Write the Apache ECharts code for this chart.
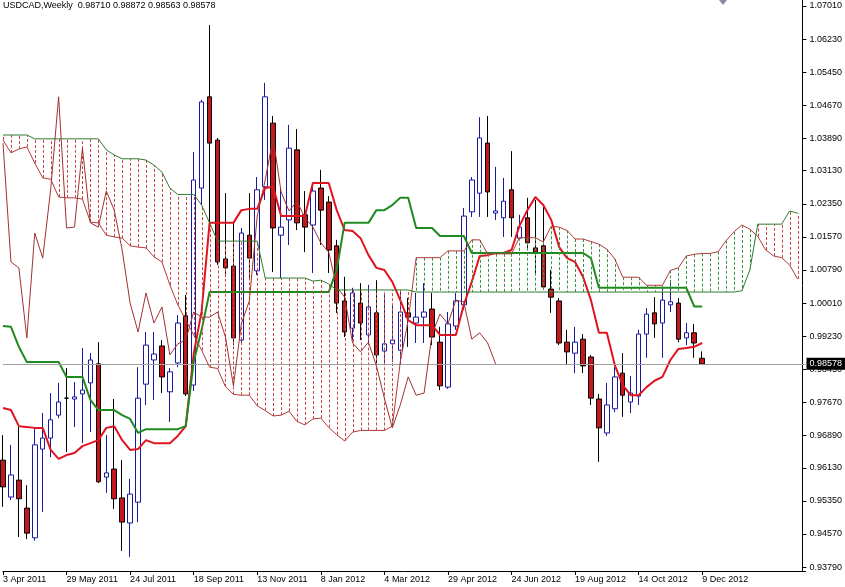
<!DOCTYPE html>
<html><head><meta charset="utf-8">
<script src="https://cdn.jsdelivr.net/npm/echarts@6/dist/echarts.min.js"></script>
<style>html,body{margin:0;padding:0;background:#fff;}#c{width:845px;height:587px;}</style>
</head><body><div id="c"></div>
<script>
const dates = ['3 Apr 2011','10 Apr 2011','17 Apr 2011','24 Apr 2011','1 May 2011','8 May 2011','15 May 2011','22 May 2011','29 May 2011','5 Jun 2011',
'12 Jun 2011','19 Jun 2011','26 Jun 2011','3 Jul 2011','10 Jul 2011','17 Jul 2011','24 Jul 2011','31 Jul 2011','7 Aug 2011','14 Aug 2011',
'21 Aug 2011','28 Aug 2011','4 Sep 2011','11 Sep 2011','18 Sep 2011','25 Sep 2011','2 Oct 2011','9 Oct 2011','16 Oct 2011','23 Oct 2011',
'30 Oct 2011','6 Nov 2011','13 Nov 2011','20 Nov 2011','27 Nov 2011','4 Dec 2011','11 Dec 2011','18 Dec 2011','25 Dec 2011','1 Jan 2012',
'8 Jan 2012','15 Jan 2012','22 Jan 2012','29 Jan 2012','5 Feb 2012','12 Feb 2012','19 Feb 2012','26 Feb 2012','4 Mar 2012','11 Mar 2012',
'18 Mar 2012','25 Mar 2012','1 Apr 2012','8 Apr 2012','15 Apr 2012','22 Apr 2012','29 Apr 2012','6 May 2012','13 May 2012','20 May 2012',
'27 May 2012','3 Jun 2012','10 Jun 2012','17 Jun 2012','24 Jun 2012','1 Jul 2012','8 Jul 2012','15 Jul 2012','22 Jul 2012','29 Jul 2012',
'5 Aug 2012','12 Aug 2012','19 Aug 2012','26 Aug 2012','2 Sep 2012','9 Sep 2012','16 Sep 2012','23 Sep 2012','30 Sep 2012','7 Oct 2012',
'14 Oct 2012','21 Oct 2012','28 Oct 2012','4 Nov 2012','11 Nov 2012','18 Nov 2012','25 Nov 2012','2 Dec 2012','9 Dec 2012','16 Dec 2012',
'23 Dec 2012','30 Dec 2012','6 Jan 2013','13 Jan 2013','20 Jan 2013','27 Jan 2013','3 Feb 2013','10 Feb 2013','17 Feb 2013','24 Feb 2013',
'3 Mar 2013','10 Mar 2013'];
const tickLabels = ['3 Apr 2011','29 May 2011','24 Jul 2011','18 Sep 2011','13 Nov 2011','8 Jan 2012','4 Mar 2012','29 Apr 2012','24 Jun 2012','19 Aug 2012','14 Oct 2012','9 Dec 2012'];
const priceTicks = [0.93790,0.94570,0.95350,0.96130,0.96890,0.97670,0.98450,0.99230,1.00010,1.00790,1.01570,1.02350,1.03130,1.03890,1.04670,1.05450,1.06230,1.07010];
const priceMin = 0.93698, priceMax = 1.07151;

const open = [
0.9631,0.9544,0.9584,0.9518,0.9448,0.9657,0.9683,0.9737,0.9777,0.9775,
0.9787,0.9813,0.9858,0.9591,0.9610,0.9542,0.9483,0.9532,0.9810,0.9867,
0.9900,0.9792,0.9860,0.9971,0.9808,1.0272,1.0487,1.0385,1.0105,1.0088,
0.9914,1.0161,1.0077,1.0275,1.0425,1.0161,1.0197,1.0362,1.0209,1.0185,
1.0272,1.0239,1.0136,1.0006,0.9942,1.0001,0.9926,0.9978,0.9888,0.9905,
0.9890,0.9978,0.9954,0.9968,0.9987,0.9909,0.9803,0.9947,0.9997,1.0216,
1.0260,1.0378,1.0213,1.0202,1.0268,1.0154,1.0202,1.0131,1.0136,1.0034,
1.0006,0.9909,0.9883,0.9916,0.9874,0.9775,0.9695,0.9752,0.9836,0.9768,
0.9782,0.9928,0.9978,0.9954,0.9997,1.0001,0.9919,0.9931,0.98710];
const high = [
0.9690,0.9667,0.9709,0.9572,0.9707,0.9742,0.9789,0.9813,0.9848,0.9815,
0.9895,0.9883,0.9909,0.9690,0.9775,0.9631,0.9587,0.9850,0.9933,0.9933,
0.9914,0.9848,0.9973,1.0020,1.0357,1.0480,1.0656,1.0390,1.0260,1.0190,
1.0178,1.0260,1.0298,1.0520,1.0442,1.0272,1.0421,1.0411,1.0265,1.0279,
1.0315,1.0253,1.0150,1.0063,1.0037,1.0048,1.0044,1.0055,1.0025,0.9997,
1.0027,1.0013,1.0025,1.0048,1.0025,0.9945,0.9980,1.0025,1.0225,1.0298,
1.0439,1.0442,1.0322,1.0296,1.0359,1.0209,1.0249,1.0244,1.0227,1.0079,
1.0013,0.9938,0.9945,0.9928,0.9879,0.9787,0.9813,0.9850,0.9883,0.9829,
0.9938,0.9989,1.0015,1.0039,1.0055,1.0013,0.9954,0.9952,0.98872];
const low = [
0.9521,0.9537,0.9450,0.9445,0.9441,0.9509,0.9638,0.9730,0.9650,0.9709,
0.9671,0.9697,0.9577,0.9554,0.9516,0.9417,0.9403,0.9485,0.9761,0.9773,
0.9789,0.9721,0.9850,0.9782,0.9794,1.0232,1.0190,1.0091,1.0063,0.9902,
0.9907,1.0055,1.0067,1.0244,1.0074,1.0060,1.0138,1.0173,1.0121,1.0072,
1.0138,1.0072,0.9978,0.9921,0.9914,0.9914,0.9907,0.9855,0.9855,0.9862,
0.9855,0.9898,0.9907,0.9907,0.9902,0.9796,0.9799,0.9938,0.9985,1.0204,
1.0204,1.0204,1.0197,1.0157,1.0157,1.0150,1.0126,1.0067,1.0032,0.9978,
0.9902,0.9855,0.9836,0.9836,0.9761,0.9627,0.9688,0.9744,0.9733,0.9742,
0.9761,0.9872,0.9919,0.9872,0.9980,0.9909,0.9902,0.9872,0.98563];
const close = [
0.9568,0.9596,0.9540,0.9459,0.9667,0.9683,0.9726,0.9768,0.9777,0.9780,
0.9796,0.9867,0.9580,0.9601,0.9540,0.9485,0.9551,0.9777,0.9902,0.9881,
0.9827,0.9839,0.9954,0.9787,1.0291,1.0475,1.0378,1.0098,1.0084,0.9919,
1.0166,1.0107,1.0268,1.0487,1.0178,1.0180,1.0366,1.0190,1.0180,1.0265,
1.0220,1.0126,1.0001,0.9933,1.0025,0.9954,0.9992,0.9879,0.9905,0.9914,
0.9980,0.9968,0.9968,0.9980,0.9921,0.9806,0.9952,1.0006,1.0206,1.0291,
1.0390,1.0263,1.0218,1.0241,1.0202,1.0180,1.0143,1.0121,1.0039,1.0015,
0.9907,0.9886,0.9909,0.9853,0.9777,0.9707,0.9761,0.9827,0.9784,0.9789,
0.9928,0.9975,0.9952,1.0008,1.0004,0.9916,0.9931,0.9907,0.98578];

const tenkan = [
0.9754,0.9749,0.9711,0.9709,0.9707,0.9707,0.9655,0.9634,0.9643,0.9648,
0.9664,0.9671,0.9678,0.9707,0.9711,0.9678,0.9655,0.9657,0.9678,0.9671,
0.9671,0.9671,0.9688,0.9711,0.9881,0.9982,1.0190,1.0190,1.0190,1.0190,
1.0220,1.0223,1.0223,1.0272,1.0275,1.0206,1.0206,1.0206,1.0206,1.0284,
1.0284,1.0284,1.0220,1.0173,1.0171,1.0154,1.0114,1.0084,1.0079,1.0051,
1.0008,0.9961,0.9949,0.9949,0.9949,0.9926,0.9926,0.9926,0.9997,1.0051,
1.0112,1.0114,1.0119,1.0119,1.0126,1.0183,1.0220,1.0251,1.0232,1.0197,
1.0133,1.0107,1.0098,1.0063,1.0008,0.9931,0.9931,0.9855,0.9808,0.9784,
0.9784,0.9803,0.9818,0.9827,0.9867,0.9893,0.9895,0.9898,0.9907];
const kijun = [
0.9947,0.9945,0.9898,0.9862,0.9862,0.9862,0.9862,0.9862,0.9827,0.9827,
0.9827,0.9773,0.9749,0.9749,0.9749,0.9737,0.9728,0.9695,0.9704,0.9704,
0.9704,0.9704,0.9704,0.9711,0.9862,0.9938,1.0027,1.0027,1.0027,1.0027,
1.0027,1.0027,1.0027,1.0027,1.0027,1.0027,1.0027,1.0027,1.0027,1.0027,
1.0027,1.0027,1.0080,1.0190,1.0190,1.0190,1.0190,1.0220,1.0220,1.0232,
1.0249,1.0249,1.0178,1.0178,1.0178,1.0159,1.0159,1.0159,1.0159,1.0119,
1.0119,1.0119,1.0119,1.0119,1.0119,1.0119,1.0119,1.0119,1.0119,1.0119,
1.0119,1.0119,1.0119,1.0119,1.0107,1.0037,1.0037,1.0037,1.0037,1.0037,
1.0037,1.0037,1.0037,1.0037,1.0037,1.0037,1.0037,0.9993,0.9993];
const spanA = [
1.0385,1.0355,1.0364,1.0369,1.0331,1.0296,1.0293,1.0251,1.0249,1.0249,
1.0246,1.0192,1.0190,1.0161,1.0157,1.0154,1.0136,1.0133,1.0131,1.0110,
1.0098,1.0044,0.9997,0.9961,0.9926,0.9890,0.9850,0.9847,0.9804,0.9786,
0.9784,0.9784,0.9759,0.9748,0.9735,0.9737,0.9746,0.9722,0.9714,0.9728,
0.9730,0.9708,0.9691,0.9676,0.9697,0.9701,0.9701,0.9701,0.9701,0.9711,
0.9862,0.9961,1.0108,1.0108,1.0108,1.0108,1.0124,1.0124,1.0124,1.0150,
1.0150,1.0117,1.0117,1.0117,1.0117,1.0155,1.0155,1.0155,1.0145,1.0182,
1.0180,1.0172,1.0152,1.0152,1.0146,1.0140,1.0128,1.0105,1.0062,1.0062,
1.0062,1.0043,1.0043,1.0043,1.0078,1.0084,1.0112,1.0116,1.0118,1.0118,
1.0122,1.0148,1.0169,1.0185,1.0175,1.0158,1.0126,1.0112,1.0108,1.0091,
1.0058];
const spanB = [
1.0397,1.0397,1.0397,1.0397,1.0388,1.0388,1.0388,1.0388,1.0388,1.0388,
1.0388,1.0388,1.0388,1.0362,1.0350,1.0341,1.0341,1.0341,1.0338,1.0326,
1.0310,1.0272,1.0257,1.0257,1.0257,1.0232,1.0190,1.0147,1.0147,1.0147,
1.0147,1.0147,1.0147,1.0060,1.0060,1.0060,1.0060,1.0060,1.0060,1.0053,
1.0055,1.0046,1.0032,1.0032,1.0032,1.0032,1.0032,1.0032,1.0032,1.0032,
1.0032,1.0032,1.0027,1.0027,1.0027,1.0027,1.0027,1.0027,1.0027,1.0027,
1.0027,1.0027,1.0027,1.0027,1.0027,1.0027,1.0027,1.0027,1.0027,1.0027,
1.0027,1.0027,1.0027,1.0027,1.0027,1.0027,1.0027,1.0027,1.0027,1.0027,
1.0027,1.0027,1.0027,1.0027,1.0027,1.0027,1.0027,1.0027,1.0027,1.0027,
1.0027,1.0027,1.0027,1.0030,1.0079,1.0187,1.0187,1.0187,1.0187,1.0218,
1.0213];
// Chikou span = closes drawn 26 bars back
const chikou = close.slice(26);

const FONT = 'Liberation Sans';
const last = open.length - 1;
const lastClose = close[last];
const titleText = 'USDCAD,Weekly  ' + [open[last], high[last], low[last], close[last]].map(v => v.toFixed(5)).join(' ');

const candles = open.map((o, i) => [o, close[i], low[i], high[i]]);
const cloud = spanA.map((a, i) => [i, a, spanB[i]]);

const chart = echarts.init(document.getElementById('c'), null, {renderer: 'canvas'});
chart.setOption({
  animation: false,
  backgroundColor: '#ffffff',
  title: {text: titleText, left: 3, top: 1, padding: 0,
    textStyle: {fontSize: 9, fontWeight: 'normal', color: '#000', fontFamily: FONT}},
  grid: {left: 0, top: 0, right: 37, bottom: 16, containLabel: false},
  xAxis: {
    type: 'category', data: dates, boundaryGap: false,
    axisLine: {lineStyle: {color: '#000', width: 1}},
    axisTick: {show: true, length: 4, interval: (i, v) => tickLabels.includes(v), lineStyle: {color: '#000'}},
    axisLabel: {interval: (i, v) => tickLabels.includes(v), formatter: v => tickLabels.includes(v) ? v : '',
      align: 'left', margin: 4, fontSize: 9, color: '#000', fontFamily: FONT},
    splitLine: {show: false}
  },
  yAxis: {
    type: 'value', position: 'right', offset: -3, min: priceMin, max: priceMax, scale: true,
    axisLine: {show: true, lineStyle: {color: '#000', width: 1}},
    axisTick: {show: true, length: 4, customValues: priceTicks, lineStyle: {color: '#000'}},
    axisLabel: {customValues: priceTicks, formatter: v => v.toFixed(5), margin: 7, fontSize: 9, color: '#000', fontFamily: FONT},
    splitLine: {show: false}
  },
  graphic: [{type: 'polygon', silent: true, shape: {points: [[719, 0], [727, 0], [723, 5]]}, style: {fill: '#858c9c'}}],
  series: [
    {
      type: 'candlestick', name: 'USDCAD', data: candles, barWidth: 5, z: 2, silent: true,
      itemStyle: {color: '#ffffff', color0: '#c4161d', borderColor: '#1a1aa0', borderColor0: '#000000', borderColorDoji: '#000000', borderWidth: 1}
    },
    {type: 'line', name: 'Tenkan-sen', data: tenkan, symbol: 'none', z: 3, silent: true, lineStyle: {color: '#e0141e', width: 2},
      markLine: {
        silent: true, symbol: 'none', animation: false, precision: 5,
        data: [{yAxis: lastClose}],
        lineStyle: {color: '#a0a0a0', width: 1, type: 'solid'},
        label: {show: true, position: 'end', distance: 1, formatter: lastClose.toFixed(5), color: '#fff', backgroundColor: '#000',
          padding: [2, 3, 1, 3], fontSize: 9, fontFamily: FONT}
      }
    },
    {type: 'line', name: 'Kijun-sen', data: kijun, symbol: 'none', z: 3, silent: true, lineStyle: {color: '#1f8a1f', width: 2}},
    {
      type: 'custom', name: 'Kumo', data: cloud, z: 4, silent: true, encode: {x: 0, y: [1, 2]},
      renderItem: (params, api) => {
        const i = api.value(0), a = api.value(1), b = api.value(2);
        const p1 = api.coord([i, a]), p2 = api.coord([i, b]);
        const x = Math.round(p1[0]) + 0.5;
        return {type: 'line', shape: {x1: x, y1: p1[1], x2: x, y2: p2[1]},
          style: {stroke: b > a ? '#cc4444' : '#3a963a', lineWidth: 1, lineDash: [3, 2]}};
      }
    },
    {type: 'line', name: 'Chikou Span', data: chikou, symbol: 'none', z: 5, silent: true, lineStyle: {color: '#a03232', width: 1}},
    {type: 'line', name: 'Senkou Span A', data: spanA, symbol: 'none', z: 5, silent: true, lineStyle: {color: '#b03a3a', width: 1}},
    {type: 'line', name: 'Senkou Span B', data: spanB, symbol: 'none', z: 5, silent: true, lineStyle: {color: '#2e7d2e', width: 1}}
  ]
});
</script>
</body></html>
